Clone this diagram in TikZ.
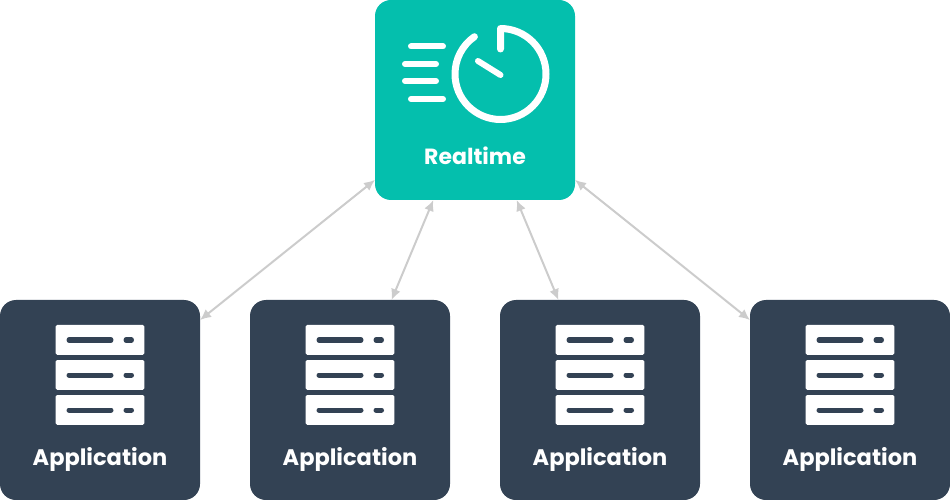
\documentclass[tikz,border=0pt]{standalone}
\usepackage{fontspec}
\setmainfont{Poppins}
\usetikzlibrary{arrows.meta}
\definecolor{tealbox}{HTML}{04BFAD}
\definecolor{darkbox}{HTML}{334254}
\definecolor{linkgray}{HTML}{CCCCCC}
\tikzset{
  x=1bp,y=-1bp,
  box/.style={rectangle,rounded corners=16bp,minimum width=200bp,minimum height=200bp,inner sep=0pt,outer sep=0pt},
  rtbox/.style={box,fill=tealbox},
  appbox/.style={box,fill=darkbox},
  lbl/.style={text=white,font=\bfseries\fontsize{22bp}{24bp}\selectfont,anchor=base,inner sep=0pt},
  applbl/.style={lbl,font=\bfseries\fontsize{22.5bp}{24bp}\selectfont},
  link/.style={draw=linkgray,line width=2bp,{Latex[length=11bp,width=10bp]}-{Latex[length=11bp,width=10bp]}},
  iconline/.style={draw=white,line width=6bp,line cap=round},
  srvbar/.style={draw=darkbox,line width=5bp,line cap=round},
  srvrect/.style={fill=white,rounded corners=1.5bp},
  pics/server/.style={code={
    \foreach \t in {25,60,95}{
      \fill[srvrect] (-44.3,\t-100) rectangle (44.3,\t-100+29.8);
      \draw[srvbar] (-31,\t-85) -- (11,\t-85);
      \draw[srvbar] (26,\t-85) -- (31.5,\t-85);
    }
  }}
}
\begin{document}
\begin{tikzpicture}
\useasboundingbox (0,0) rectangle (950,500);
\node[rtbox] (rt) at (475,100) {};
\node[appbox] (a1) at (100,400) {};
\node[appbox] (a2) at (350,400) {};
\node[appbox] (a3) at (600,400) {};
\node[appbox] (a4) at (850,400) {};
\foreach \n in {a1,a2,a3,a4}{
  \draw[link] (rt) -- (\n);
  \pic at (\n) {server};
}
\node[lbl] (rtl) at (475,165) {Realtime};
\node[applbl] (l1) at (100,465) {Application};
\node[applbl] (l2) at (350,465) {Application};
\node[applbl] (l3) at (600,465) {Application};
\node[applbl] (l4) at (850,465) {Application};
\draw[iconline] (411,46.5) -- (443,46.5);
\draw[iconline] (405,64) -- (436,64);
\draw[iconline] (405,81) -- (436,81);
\draw[iconline] (411,99) -- (443,99);
\draw[iconline,line width=7bp,line join=round] (500.5,49) -- (500.5,28.5) arc[start angle=-90,end angle=235,radius=45.5];
\draw[iconline] (478,61) -- (500.5,75);
\end{tikzpicture}
\end{document}
